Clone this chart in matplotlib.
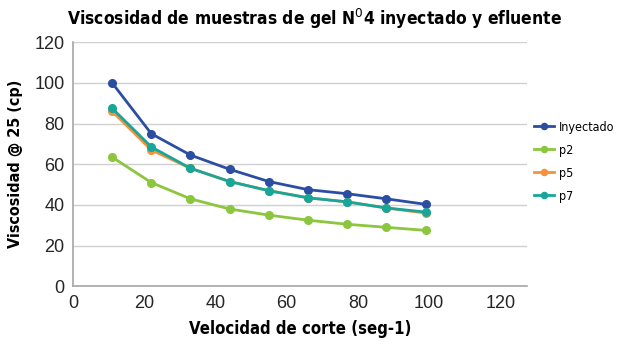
import matplotlib
matplotlib.use("Agg")
import matplotlib.pyplot as plt

# shear rate (seg-1)
velocidad = [11, 22, 33, 44, 55, 66, 77, 88, 99]

inyectado = [100, 75, 64.5, 57.5, 51.5, 47.5, 45.5, 43, 40.3]
p2 = [63.5, 51, 43, 38, 35, 32.5, 30.5, 29, 27.5]
p5 = [86, 67, 58, 51.5, 47, 43.5, 41.5, 38.5, 36]
p7 = [87.5, 68.5, 58, 51.5, 47, 43.5, 41.5, 38.5, 36.5]

series = [("Inyectado", inyectado, "#2B4EA2"),
          ("p2", p2, "#8CC63E"),
          ("p5", p5, "#F7923A"),
          ("p7", p7, "#17A69A")]

fig = plt.figure(figsize=(6.23, 3.45), dpi=100)
ax = fig.add_axes([0.117, 0.17, 0.729, 0.708])

for name, vals, col in series:
    ax.plot(velocidad, vals, color=col, lw=2.0, marker="o", ms=5.5, label=name)

ax.set_xlim(0, 127.5)
ax.set_ylim(0, 120)
ax.set_xticks(range(0, 121, 20))
ax.set_yticks(range(0, 121, 20))
ax.yaxis.grid(True, color="#d0d0d0", lw=1)
ax.set_axisbelow(True)
for s in ["top", "right"]:
    ax.spines[s].set_visible(False)
for s in ["left", "bottom"]:
    ax.spines[s].set_color("#a6a6a6")
    ax.spines[s].set_linewidth(1.2)
ax.tick_params(length=0, labelsize=13, colors="#262626", pad=6)
for t in ax.get_xticklabels() + ax.get_yticklabels():
    t.set_family("Liberation Sans")

bold = dict(family="DejaVu Sans", stretch="condensed", fontweight="bold")
ax.set_xlabel("Velocidad de corte (seg-1)", fontsize=12, labelpad=6, **bold)
ax.set_ylabel("Viscosidad @ 25 (cp)", fontsize=11.5, labelpad=8, **bold)
fig.text(0.505, 0.945, "Viscosidad de muestras de gel N$^{0}$4 inyectado y efluente",
         fontsize=12.5, ha="center", va="center", **bold)

leg = ax.legend(loc="center left", bbox_to_anchor=(0.99, 0.51), frameon=False,
                prop=dict(family="DejaVu Sans", stretch="condensed", size=9),
                handlelength=1.6, handletextpad=0.4, labelspacing=0.8,
                markerscale=0.8)

fig.savefig("out.png", dpi=100)
